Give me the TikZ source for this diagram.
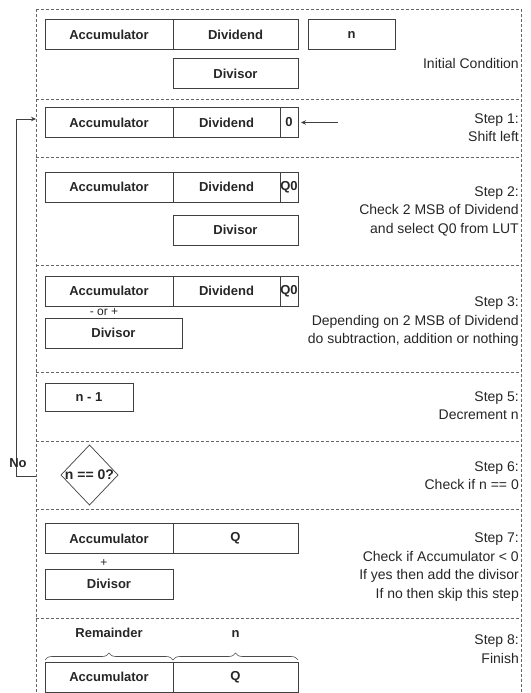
\documentclass[tikz,border=0pt]{standalone}
\usepackage{fontspec}
\setmainfont{Liberation Sans}
\usetikzlibrary{positioning,shapes.geometric,arrows.meta,decorations.pathreplacing}

\tikzset{
  reg/.style={draw=black!75, line width=0.7pt, inner sep=0pt, outer sep=0pt,
    minimum height=30, text=black!85, font=\fontsize{13}{15}\selectfont\bfseries},
  frame/.style={draw=black!60, line width=0.6pt, dash pattern=on 3pt off 2pt},
  steptext/.style={anchor=east, align=right, inner sep=0pt, text=black!85,
    font=\fontsize{14}{18.5}\selectfont},
  tag/.style={inner sep=0pt, text=black!85, font=\fontsize{12}{14}\selectfont},
  boldtag/.style={inner sep=0pt, text=black!85, font=\fontsize{13}{15}\selectfont\bfseries},
  link/.style={draw=black!75, line width=0.6pt, -{Stealth[length=5pt,width=4.5pt]}},
  brace8/.style={draw=black!70, line width=0.6pt, decorate,
    decoration={brace, amplitude=7pt, raise=2pt}},
}

\begin{document}
\begin{tikzpicture}[x=1pt, y=-1pt]
  \useasboundingbox (0,0) rectangle (530,693);

  % step frames
  \foreach \y in {9,99,157,265,372,441,509,618}
    \draw[frame] (36,\y) -- (521,\y);
  \draw[frame] (36,9) -- (36,693);
  \draw[frame] (521,9) -- (521,693);

  % initial condition
  \node[reg, minimum width=128, anchor=west] (acc0) at (45,34.5) {Accumulator};
  \node[reg, minimum width=125, right=0pt of acc0] (dvd0) {Dividend};
  \node[reg, minimum width=87, anchor=west] (cnt0) at (308,34.5) {n};
  \node[reg, minimum width=125, below=9pt of dvd0] (dvs0) {Divisor};
  \node[steptext] (lbl0) at (519,63) {Initial Condition};

  % step 1
  \node[reg, minimum width=128, anchor=west] (acc1) at (45,122.5) {Accumulator};
  \node[reg, minimum width=107, right=0pt of acc1] (dvd1) {Dividend};
  \node[reg, minimum width=18, right=0pt of dvd1] (zero1) {0};
  \coordinate (shift1) at (338,122.5);
  \draw[link] (shift1) -- ([xshift=3pt]zero1.east);
  \node[steptext] (lbl1) at (519,127.5) {Step 1:\\Shift left};

  % step 2
  \node[reg, minimum width=128, anchor=west] (acc2) at (45,187) {Accumulator};
  \node[reg, minimum width=107, right=0pt of acc2] (dvd2) {Dividend};
  \node[reg, minimum width=18, right=0pt of dvd2] (q2) {Q0};
  \node[reg, minimum width=125, anchor=north west] (dvs2) at ([yshift=-13pt]dvd2.south west) {Divisor};
  \node[steptext] (lbl2) at (519,211) {Step 2:\\Check 2 MSB of Dividend\\and select Q0 from LUT};

  % step 3
  \node[reg, minimum width=128, anchor=west] (acc3) at (45,291) {Accumulator};
  \node[reg, minimum width=107, right=0pt of acc3] (dvd3) {Dividend};
  \node[reg, minimum width=18, right=0pt of dvd3] (q3) {Q0};
  \node[reg, minimum width=137, anchor=north west] (dvs3) at (45,318) {Divisor};
  \node[tag] (op3) at (104,312) {- or +};
  \node[steptext] (lbl3) at (519,322) {Step 3:\\Depending on 2 MSB of Dividend\\do subtraction, addition or nothing};

  % step 5
  \node[reg, minimum width=88, minimum height=28, anchor=west] (dec5) at (45,397) {n - 1};
  \node[steptext] (lbl5) at (519,405.5) {Step 5:\\Decrement n};

  % step 6
  \node[reg, diamond, minimum width=57, minimum height=60, inner sep=-1pt,
    font=\fontsize{14}{16}\selectfont\bfseries] (chk6) at (89.5,475) {n == 0?};
  \node[steptext] (lbl6) at (519,475.5) {Step 6:\\Check if n == 0};
  \coordinate (back6) at (36,476);
  \coordinate (entry1) at (36,119);
  \draw[link] (back6) -- ++(-20,0) |- (entry1);
  \node[boldtag] (no6) at (18,463) {No};

  % step 7
  \node[reg, minimum width=128, anchor=west] (acc7) at (45,538.5) {Accumulator};
  \node[reg, minimum width=125, right=0pt of acc7] (q7) {Q};
  \node[tag] (op7) at (104,563) {+};
  \node[reg, minimum width=128, anchor=north west] (dvs7) at (45,569) {Divisor};
  \node[steptext] (lbl7) at (519,567) {Step 7:\\Check if Accumulator < 0\\If yes then add the divisor\\If no then skip this step};

  % step 8
  \node[reg, minimum width=128, anchor=west] (acc8) at (45,677) {Accumulator};
  \node[reg, minimum width=125, right=0pt of acc8] (q8) {Q};
  \draw[brace8] (acc8.north west) -- (acc8.north east);
  \draw[brace8] (q8.north west) -- (q8.north east);
  \node[boldtag, above=24pt of acc8] (rem8) {Remainder};
  \node[boldtag, above=24pt of q8] (quo8) {n};
  \node[steptext] (lbl8) at (519,649) {Step 8:\\Finish};
\end{tikzpicture}
\end{document}
